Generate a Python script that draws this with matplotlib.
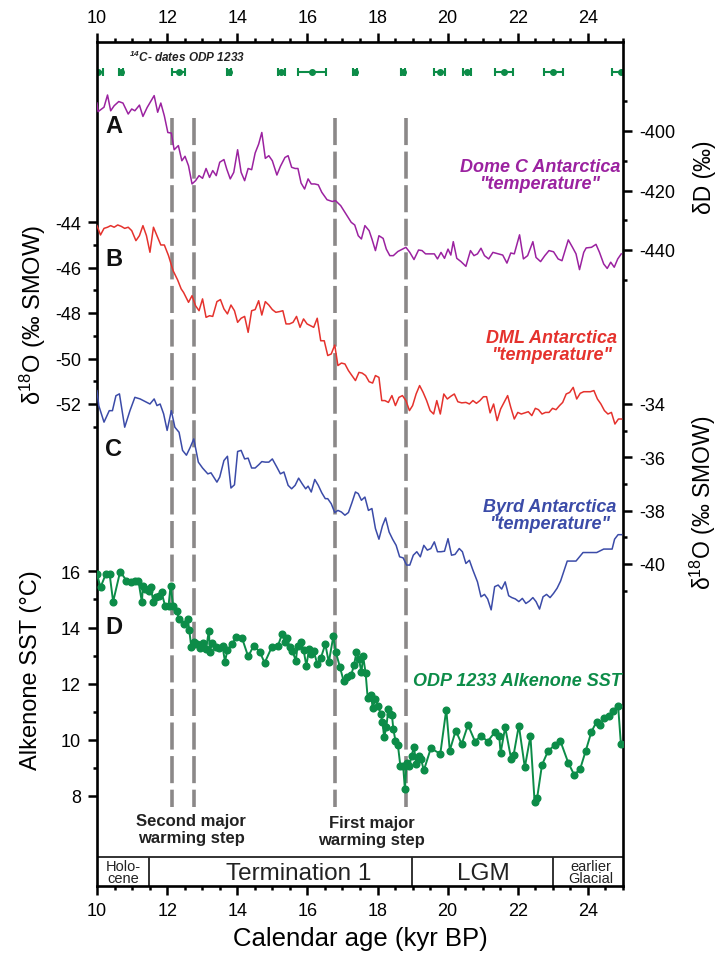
import matplotlib
matplotlib.use('Agg')
import matplotlib.pyplot as plt

plt.rcParams['font.family'] = ['Liberation Sans', 'DejaVu Sans']
plt.rcParams['axes.unicode_minus'] = False
plt.rcParams['mathtext.default'] = 'regular'

#---------------------------- data ----------------------------#
# A: Dome C dD (permil)
domec_age = [10.0, 10.03, 10.20, 10.30, 10.39, 10.49, 10.62, 10.74, 10.89, 10.99, 11.08, 11.21, 11.31, 11.43, 11.63, 11.73,
             11.82, 11.92, 12.02, 12.12, 12.20, 12.32, 12.42, 12.51, 12.61, 12.71, 12.81, 12.91, 13.01, 13.11, 13.21, 13.30,
             13.40, 13.50, 13.62, 13.70, 13.80, 13.90, 14.01, 14.11, 14.21, 14.31, 14.41, 14.51, 14.61, 14.70, 14.80, 14.90,
             15.00, 15.13, 15.23, 15.36, 15.45, 15.55, 15.65, 15.73, 15.82, 15.92, 16.02, 16.11, 16.21, 16.31, 16.41, 16.56,
             16.71, 16.80, 16.95, 17.10, 17.25, 17.35, 17.45, 17.54, 17.64, 17.76, 17.84, 17.94, 18.04, 18.16, 18.25, 18.35,
             18.45, 18.58, 18.68, 18.81, 18.92, 19.04, 19.17, 19.27, 19.37, 19.52, 19.62, 19.71, 19.81, 19.91, 20.01, 20.09,
             20.16, 20.26, 20.38, 20.52, 20.65, 20.75, 20.85, 20.95, 21.05, 21.17, 21.29, 21.44, 21.57, 21.69, 21.80, 21.90,
             22.05, 22.16, 22.28, 22.43, 22.52, 22.65, 22.77, 22.89, 23.02, 23.15, 23.26, 23.44, 23.56, 23.66, 23.76, 23.88,
             23.95, 24.10, 24.23, 24.33, 24.45, 24.55, 24.65, 24.75, 24.85, 24.95]
domec_dD = [-390.6, -393.5, -392.0, -387.9, -393.2, -391.5, -390.1, -390.6, -394.3, -392.6, -393.2, -391.3, -395.1, -392.1,
            -388.1, -393.7, -390.6, -394.9, -400.5, -400.7, -406.3, -404.9, -410.0, -408.5, -411.7, -417.8, -416.7, -415.0,
            -415.9, -412.6, -415.6, -413.3, -415.0, -410.5, -409.6, -412.8, -416.1, -413.9, -406.3, -413.9, -416.7, -412.6,
            -413.0, -407.4, -404.4, -400.5, -409.2, -408.3, -410.0, -414.8, -411.9, -408.9, -408.3, -412.2, -412.6, -412.6,
            -417.5, -419.5, -416.1, -417.8, -417.8, -418.1, -420.6, -423.1, -423.7, -423.4, -425.1, -427.9, -430.7, -431.6,
            -435.2, -436.3, -431.8, -433.5, -436.3, -440.2, -435.2, -436.1, -439.7, -441.9, -441.9, -440.5, -439.9, -439.1,
            -440.8, -443.2, -440.0, -440.2, -441.3, -441.3, -441.3, -443.0, -440.8, -442.8, -439.7, -441.7, -437.2, -442.8,
            -443.9, -445.5, -440.2, -441.9, -441.3, -439.4, -441.9, -443.0, -440.8, -441.3, -441.7, -444.4, -441.0, -441.3,
            -434.9, -443.0, -441.9, -437.2, -442.5, -443.9, -441.9, -440.2, -440.6, -443.0, -443.6, -436.6, -439.1, -441.3,
            -446.6, -440.8, -439.3, -439.1, -438.1, -440.8, -444.7, -446.2, -444.1, -445.8, -443.0, -441.3]

# B: DML d18O (permil SMOW)
dml_age = [10.00, 10.10, 10.20, 10.30, 10.39, 10.49, 10.59, 10.69, 10.79, 10.89, 10.99, 11.11, 11.21, 11.31, 11.41, 11.51,
           11.61, 11.71, 11.82, 11.92, 12.04, 12.17, 12.30, 12.40, 12.47, 12.61, 12.71, 12.81, 12.91, 13.01, 13.11, 13.21,
           13.30, 13.42, 13.52, 13.62, 13.72, 13.82, 13.92, 14.01, 14.11, 14.21, 14.31, 14.41, 14.51, 14.61, 14.70, 14.80,
           14.90, 15.00, 15.10, 15.20, 15.30, 15.39, 15.49, 15.59, 15.69, 15.79, 15.89, 15.99, 16.09, 16.18, 16.28, 16.38,
           16.48, 16.58, 16.68, 16.78, 16.87, 16.97, 17.07, 17.17, 17.27, 17.37, 17.47, 17.56, 17.66, 17.76, 17.86, 17.94,
           18.04, 18.12, 18.21, 18.31, 18.41, 18.51, 18.61, 18.71, 18.81, 18.91, 19.00, 19.10, 19.20, 19.30, 19.40, 19.50,
           19.60, 19.69, 19.79, 19.89, 19.99, 20.09, 20.19, 20.29, 20.40, 20.52, 20.62, 20.72, 20.82, 20.92, 21.02, 21.11,
           21.21, 21.31, 21.41, 21.51, 21.61, 21.71, 21.80, 21.90, 22.00, 22.10, 22.20, 22.30, 22.40, 22.50, 22.59, 22.69,
           22.79, 22.89, 22.99, 23.09, 23.19, 23.28, 23.38, 23.48, 23.58, 23.68, 23.78, 23.88, 23.97, 24.07, 24.17, 24.27,
           24.37, 24.47, 24.57, 24.67, 24.77, 24.87, 24.96]
dml_d18O = [-44.16, -44.57, -44.28, -44.23, -44.16, -44.23, -44.13, -44.19, -44.28, -44.23, -44.38, -44.82, -44.60, -44.16,
            -44.60, -45.33, -44.23, -44.60, -45.01, -45.01, -45.48, -46.14, -46.55, -46.94, -47.10, -47.53, -47.24, -47.68,
            -47.90, -47.38, -48.19, -48.12, -48.15, -47.50, -47.41, -47.82, -48.04, -47.65, -47.90, -48.41, -48.23, -48.15,
            -48.85, -47.90, -47.85, -47.46, -48.09, -47.50, -47.65, -47.85, -47.97, -47.94, -47.90, -48.48, -48.48, -48.41,
            -48.15, -48.63, -48.26, -48.48, -48.56, -48.63, -48.23, -49.22, -49.22, -49.87, -49.80, -49.41, -50.31, -50.20,
            -50.24, -50.53, -50.75, -50.97, -50.61, -50.64, -50.75, -51.02, -51.08, -50.75, -50.83, -51.85, -51.85, -51.93,
            -51.63, -52.07, -51.71, -51.63, -51.85, -52.29, -52.07, -51.56, -51.19, -51.49, -51.85, -52.29, -52.44, -51.85,
            -52.44, -51.56, -51.78, -51.66, -51.56, -51.90, -51.95, -51.93, -52.00, -51.85, -51.97, -51.85, -51.68, -51.68,
            -52.39, -52.00, -52.73, -52.22, -51.93, -51.63, -52.15, -52.66, -52.37, -52.44, -52.39, -52.34, -52.51, -52.19,
            -52.25, -52.44, -52.37, -52.37, -52.19, -52.25, -52.07, -51.93, -51.56, -51.49, -51.27, -51.78, -51.53, -51.46,
            -51.46, -51.46, -51.41, -51.78, -52.00, -52.29, -52.44, -52.37, -52.88, -52.66, -52.66]

# C: Byrd d18O (permil SMOW)
byrd_age = [10.00, 10.05, 10.20, 10.35, 10.44, 10.54, 10.64, 10.79, 10.94, 11.08, 11.23, 11.38, 11.51, 11.63, 11.71, 11.80,
            11.90, 12.00, 12.12, 12.22, 12.34, 12.44, 12.55, 12.66, 12.76, 12.89, 13.01, 13.16, 13.25, 13.42, 13.50, 13.62,
            13.72, 13.82, 13.92, 14.01, 14.11, 14.21, 14.31, 14.41, 14.51, 14.61, 14.70, 14.80, 14.90, 15.00, 15.13, 15.23,
            15.33, 15.45, 15.55, 15.65, 15.75, 15.85, 15.95, 16.02, 16.11, 16.21, 16.31, 16.41, 16.51, 16.58, 16.68, 16.78,
            16.87, 16.97, 17.07, 17.17, 17.27, 17.37, 17.45, 17.54, 17.64, 17.74, 17.84, 17.94, 18.04, 18.14, 18.23, 18.33,
            18.43, 18.53, 18.63, 18.73, 18.83, 18.92, 19.02, 19.12, 19.22, 19.32, 19.42, 19.52, 19.62, 19.71, 19.81, 19.91,
            20.01, 20.11, 20.21, 20.33, 20.42, 20.52, 20.62, 20.72, 20.85, 20.95, 21.05, 21.14, 21.24, 21.34, 21.44, 21.54,
            21.64, 21.74, 21.83, 21.93, 22.03, 22.13, 22.23, 22.33, 22.43, 22.52, 22.62, 22.72, 22.82, 22.92, 23.02, 23.12,
            23.22, 23.31, 23.41, 23.51, 23.66, 23.86, 24.05, 24.25, 24.45, 24.60, 24.69, 24.76, 24.86, 24.96]
byrd_d18O = [-33.50, -34.06, -34.68, -34.25, -34.25, -33.69, -33.62, -34.87, -34.25, -33.75, -33.81, -33.91, -34.00, -33.81,
             -34.06, -34.00, -34.37, -34.99, -34.25, -34.87, -35.06, -35.74, -35.92, -35.62, -35.31, -36.18, -36.40, -36.62,
             -36.58, -36.93, -36.74, -36.12, -35.96, -37.15, -37.03, -35.78, -35.74, -36.06, -36.03, -36.40, -36.40, -36.28,
             -36.16, -36.18, -36.18, -36.06, -36.37, -36.62, -36.55, -37.05, -37.18, -37.05, -36.78, -36.99, -37.18, -37.08,
             -37.30, -36.83, -37.05, -37.33, -37.55, -37.55, -37.74, -38.07, -37.99, -38.05, -38.17, -38.07, -37.70, -37.30,
             -37.36, -37.61, -37.49, -37.99, -37.92, -38.67, -39.07, -38.57, -38.27, -38.80, -39.07, -39.30, -39.73, -39.77,
             -40.04, -40.04, -39.67, -39.54, -39.73, -39.30, -39.48, -39.42, -39.17, -39.54, -39.54, -39.52, -39.05, -39.67,
             -39.64, -39.42, -39.54, -39.98, -39.86, -40.23, -40.67, -41.23, -41.14, -41.31, -41.72, -40.85, -40.79, -40.94,
             -40.67, -41.19, -41.26, -41.31, -41.41, -41.29, -41.48, -41.39, -41.26, -41.41, -41.69, -41.23, -41.14, -41.26,
             -41.10, -40.91, -40.64, -40.29, -39.89, -39.89, -39.89, -39.57, -39.57, -39.57, -39.44, -39.44, -39.44, -39.07,
             -38.90, -38.90]

# D: ODP 1233 alkenone SST (deg C)
sst_age = [10.00, 10.10, 10.25, 10.36, 10.46, 10.66, 10.84, 10.96, 11.08, 11.18, 11.28, 11.31, 11.38, 11.48, 11.53, 11.61,
           11.68, 11.78, 11.84, 11.94, 12.04, 12.10, 12.17, 12.27, 12.34, 12.47, 12.59, 12.63, 12.69, 12.76, 12.86, 12.93,
           13.03, 13.11, 13.19, 13.22, 13.28, 13.38, 13.48, 13.58, 13.65, 13.72, 13.85, 13.97, 14.14, 14.31, 14.47, 14.64,
           14.78, 14.98, 15.16, 15.28, 15.36, 15.42, 15.49, 15.57, 15.67, 15.72, 15.82, 15.89, 15.97, 16.05, 16.11, 16.18,
           16.28, 16.38, 16.51, 16.61, 16.74, 16.81, 16.93, 17.03, 17.13, 17.25, 17.33, 17.40, 17.47, 17.54, 17.59, 17.66,
           17.72, 17.82, 17.86, 17.94, 18.02, 18.09, 18.14, 18.19, 18.25, 18.31, 18.35, 18.41, 18.45, 18.51, 18.58, 18.65,
           18.73, 18.78, 18.83, 18.91, 18.97, 19.04, 19.10, 19.17, 19.24, 19.32, 19.52, 19.79, 19.96, 20.06, 20.23, 20.40,
           20.58, 20.78, 20.95, 21.14, 21.34, 21.47, 21.51, 21.64, 21.81, 21.88, 22.03, 22.20, 22.36, 22.48, 22.55, 22.69,
           22.87, 23.05, 23.21, 23.44, 23.61, 23.78, 23.94, 24.10, 24.25, 24.35, 24.47, 24.60, 24.72, 24.86, 24.94]
sst = [15.90, 15.43, 15.90, 15.90, 14.92, 15.99, 15.67, 15.61, 15.67, 15.67, 14.90, 15.49, 15.37, 15.31, 15.43, 14.90,
       15.07, 15.13, 15.25, 14.78, 14.78, 15.49, 14.78, 14.60, 14.30, 14.13, 14.30, 13.92, 13.29, 13.47, 13.41, 13.26,
       13.45, 13.23, 13.89, 13.12, 13.45, 13.29, 13.26, 13.33, 12.78, 13.21, 13.41, 13.65, 13.61, 12.97, 13.35, 13.14,
       12.74, 13.29, 13.35, 13.77, 13.47, 13.61, 13.29, 13.17, 12.82, 13.35, 13.47, 13.21, 12.64, 13.24, 13.06, 13.17,
       12.70, 12.90, 13.41, 12.76, 13.69, 13.12, 12.58, 12.11, 12.23, 12.31, 12.67, 13.12, 12.88, 12.40, 12.97, 12.38,
       11.48, 11.60, 11.12, 11.46, 11.20, 10.92, 10.63, 10.09, 10.45, 11.10, 10.92, 10.89, 10.39, 9.97, 9.82, 9.08,
       9.08, 8.25, 9.18, 9.08, 9.44, 9.74, 9.14, 9.44, 9.32, 8.91, 9.70, 9.50, 11.08, 9.62, 10.33, 9.85,
       10.53, 9.94, 10.15, 9.94, 10.27, 10.15, 9.53, 10.45, 9.32, 9.46, 10.51, 9.02, 10.13, 7.78, 7.92, 9.11,
       9.62, 9.80, 9.97, 9.18, 8.75, 8.97, 9.62, 10.29, 10.65, 10.53, 10.77, 10.84, 11.04, 11.22, 9.85]

# 14C dates ODP 1233 with errors (kyr)
c14_age = [10.03, 10.68, 12.33, 13.76, 15.26, 16.13, 17.35, 18.72, 19.77, 20.55, 21.60, 23.01, 24.94]
c14_err = [0.13, 0.06, 0.18, 0.06, 0.10, 0.41, 0.06, 0.06, 0.16, 0.12, 0.26, 0.27, 0.25]

steps = [12.15, 12.77, 16.78, 18.81]
stage_edges = [11.48, 18.97, 22.99]
stage_names = ['Holo-\ncene', 'Termination 1', 'LGM', 'earlier\nGlacial']
stage_centers = [10.76, 15.74, 21.03, 24.07]

#---------------------------- figure ----------------------------#
W, H = 719, 962
fig = plt.figure(figsize=(W / 100, H / 100), dpi=100)
X0, X1, Y0, Y1 = 97, 623, 43, 887      # frame in pixels (top/bottom)
pos = [X0 / W, 1 - Y1 / H, (X1 - X0) / W, (Y1 - Y0) / H]

purple = '#9b22a0'
red = '#e5322d'
blue = '#3b4ba8'
green = '#0c8c48'
gray = '#8b8888'

ax = fig.add_axes(pos)
ax.set_xlim(10, 25)
ax.set_ylim(Y1, Y0)
ax.set_yticks([])
for s in ax.spines.values():
    s.set_linewidth(1.9)
ax.set_xticks(range(10, 26, 2))
ax.set_xticks([v / 2 for v in range(20, 51)], minor=True)
ax.tick_params(axis='x', which='both', direction='out', top=True, labeltop=True, width=1.8, labelsize=13, pad=5)
ax.tick_params(axis='x', which='major', length=6.5)
ax.tick_params(axis='x', which='minor', length=3.2)
ax.set_xlabel('Calendar age (kyr BP)', fontsize=18.5, labelpad=5)


def make_axis(v1, p1, v2, p2, side, major, minor):
    a = fig.add_axes(pos)
    a.set_facecolor('none')
    for s in a.spines.values():
        s.set_visible(False)
    a.set_xlim(10, 25)
    a.set_xticks([])
    k = (v2 - v1) / (p2 - p1)
    a.set_ylim(v1 + (Y1 - p1) * k, v1 + (Y0 - p1) * k)
    a.set_yticks(major)
    a.set_yticks(minor, minor=True)
    a.yaxis.set_ticks_position(side)
    a.tick_params(axis='y', which='both', direction='out', width=1.8, labelsize=13, pad=5)
    a.tick_params(axis='y', which='major', length=6.5)
    a.tick_params(axis='y', which='minor', length=3.2)
    return a


axA = make_axis(-400, 132, -440, 251, 'right', [-400, -420, -440], [-390, -410, -430, -450])
axB = make_axis(-44, 223, -52, 405, 'left', [-44, -46, -48, -50, -52], [-45, -47, -49, -51, -53])
axC = make_axis(-34, 405, -40, 565, 'right', [-34, -36, -38, -40], [-35, -37, -39, -41])
axD = make_axis(14, 628.5, 8, 797, 'left', [8, 10, 12, 14, 16], [9, 11, 13, 15])

axA.plot(domec_age, domec_dD, color=purple, lw=1.1)
axB.plot(dml_age, dml_d18O, color=red, lw=1.1)
axC.plot(byrd_age, byrd_d18O, color=blue, lw=1.1)
axD.plot(sst_age, sst, color=green, lw=1.4, marker='o', ms=4.8, mec=green, mfc=green)

# warming steps
ax.vlines(steps, 119, 808, colors=gray, lw=2.6, linestyles=(0, (7.5, 1.8)))

# 14C dates row
ax.errorbar(c14_age, [73] * len(c14_age), xerr=c14_err, fmt='o', ms=4, color=green,
            elinewidth=1.5, capsize=3, capthick=1.5, clip_on=True)
ax.text(10.92, 57, '$^{14}$C- dates ODP 1233', fontsize=8.5, fontweight='bold', style='italic',
        ha='left', va='center', color='#222222')

# stage bar
ax.plot([10, 25], [858, 858], color='#222222', lw=1.3)
ax.vlines(stage_edges, 858, 887, colors='#222222', lw=1.3)
for c, nm in zip(stage_centers, stage_names):
    if '\n' in nm:
        ax.text(c, 873, nm, fontsize=10.5, ha='center', va='center', linespacing=0.8, color='#222222')
    else:
        ax.text(c, 874, nm, fontsize=17.5, ha='center', va='center', color='#222222')

# panel letters
for lab, yy in zip(['A', 'B', 'C', 'D'], [127, 260, 450, 628]):
    ax.text(10.47, yy, lab, fontsize=17, fontweight='bold', ha='center', va='center', color='#111111')

# curve names
ax.text(22.63, 176, 'Dome C Antarctica\n"temperature"', color=purple, fontsize=13, fontweight='bold',
        style='italic', ha='center', va='center', linespacing=1.05)
ax.text(22.95, 347, 'DML Antarctica\n"temperature"', color=red, fontsize=13, fontweight='bold',
        style='italic', ha='center', va='center', linespacing=1.05)
ax.text(22.92, 516, 'Byrd Antarctica\n"temperature"', color=blue, fontsize=13, fontweight='bold',
        style='italic', ha='center', va='center', linespacing=1.05)
ax.text(24.97, 682, 'ODP 1233 Alkenone SST', color=green, fontsize=13, fontweight='bold',
        style='italic', ha='right', va='center')

ax.text(12.69, 830, 'Second major\nwarming step', fontsize=12, fontweight='bold', ha='center',
        va='center', linespacing=1.1, color='#222222')
ax.text(17.84, 832, 'First major\nwarming step', fontsize=12, fontweight='bold', ha='center',
        va='center', linespacing=1.1, color='#222222')

# axis titles
fig.text(33 / W, 1 - 315 / H, 'δ$^{18}$O (‰ SMOW)', rotation=90, fontsize=17, ha='center', va='center')
fig.text(31 / W, 1 - 670 / H, 'Alkenone SST (°C)', rotation=90, fontsize=17, ha='center', va='center')
fig.text(704 / W, 1 - 177 / H, 'δD (‰)', rotation=90, fontsize=16.5, ha='center', va='center')
fig.text(703 / W, 1 - 503 / H, 'δ$^{18}$O (‰ SMOW)', rotation=90, fontsize=16.5, ha='center', va='center')

fig.savefig('out.png', dpi=100)
